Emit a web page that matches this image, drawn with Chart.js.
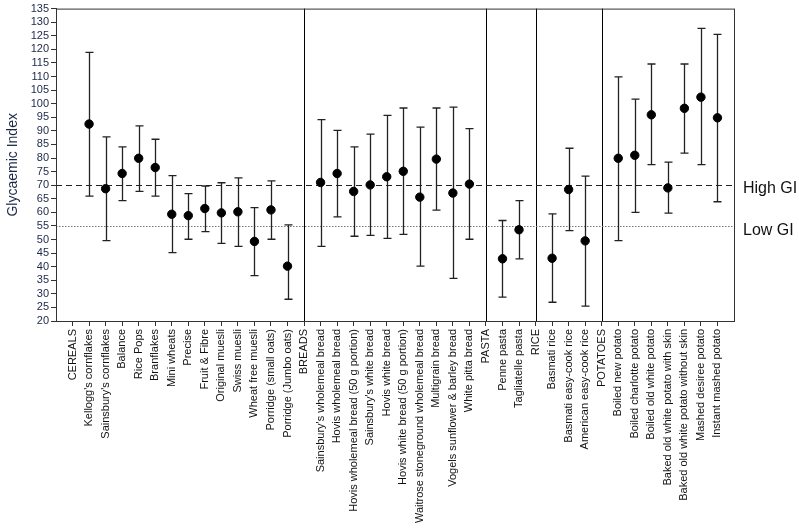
<!DOCTYPE html>
<html>
<head>
<meta charset="utf-8">
<script src="https://cdn.jsdelivr.net/npm/chart.js@4/dist/chart.umd.min.js"></script>
<style>
  html, body { margin: 0; padding: 0; background: #fff; }
  #wrap { width: 799px; height: 528px; }
</style>
</head>
<body>
<div id="wrap"><canvas id="gi"></canvas></div>
<script>
// categories along the x axis; group headers carry no value
const categories = [
  'CEREALS', "Kellogg's cornflakes", "Sainsbury's cornflakes", 'Balance', 'Rice Pops', 'Branflakes',
  'Mini wheats', 'Precise', 'Fruit & Fibre', 'Original muesli', 'Swiss muesli', 'Wheat free muesli',
  'Porridge (small oats)', 'Porridge (Jumbo oats)',
  'BREADS', "Sainsbury's wholemeal bread", 'Hovis wholemeal bread', 'Hovis wholemeal bread (50 g portion)',
  "Sainsbury's white bread", 'Hovis white bread', 'Hovis white bread (50 g portion)',
  'Waitrose stoneground wholemeal bread', 'Multigrain bread', 'Vogels sunflower & barley bread', 'White pitta bread',
  'PASTA', 'Penne pasta', 'Tagliatelle pasta',
  'RICE', 'Basmati rice', 'Basmati easy-cook rice', 'American easy-cook rice',
  'POTATOES', 'Boiled new potato', 'Boiled charlotte potato', 'Boiled old white potato',
  'Baked old white potato with skin', 'Baked old white potato without skin', 'Mashed desiree potato', 'Instant mashed potato'
];
const groupHeaders = ['BREADS', 'PASTA', 'RICE', 'POTATOES'];

const gi = [
  null, 92.5, 68.7, 74.3, 79.9, 76.5, 59.3, 58.8, 61.4, 59.8, 60.2, 49.3, 60.9, 40.2,
  null, 71.0, 74.3, 67.7, 70.1, 73.1, 75.1, 65.6, 79.6, 67.1, 70.4,
  null, 42.9, 53.6,
  null, 43.1, 68.4, 49.5,
  null, 79.9, 81.0, 95.9, 69.0, 98.3, 102.4, 94.8
];
const giHigh = [
  null, 118.9, 87.8, 84.1, 91.8, 86.9, 73.5, 66.9, 69.7, 70.9, 72.7, 61.7, 71.6, 55.4,
  null, 94.1, 90.2, 84.1, 88.8, 95.7, 98.4, 91.4, 98.4, 98.7, 90.8,
  null, 57.0, 64.3,
  null, 59.4, 83.6, 73.3,
  null, 109.9, 101.7, 114.6, 78.5, 114.6, 127.7, 125.5
];
const giLow = [
  null, 66.0, 49.6, 64.3, 67.7, 66.0, 45.2, 50.1, 52.9, 48.6, 47.5, 36.7, 50.1, 28.0,
  null, 47.5, 58.3, 51.2, 51.5, 50.4, 51.9, 40.2, 60.8, 35.7, 50.1,
  null, 28.8, 42.9,
  null, 26.9, 53.3, 25.5,
  null, 49.6, 60.0, 77.6, 59.7, 81.8, 77.6, 63.9
];

const highGI = 70;
const lowGI = 55;

const points = [];
categories.forEach((c, i) => {
  if (gi[i] !== null) points.push({ x: i, y: gi[i] });
});

// ── error bars, reference lines, group separators, frame ──────────────────
const decorations = {
  id: 'decorations',
  beforeDatasetsDraw(chart) {
    const { ctx, chartArea: a, scales: { x, y } } = chart;
    ctx.save();

    // group separators
    ctx.strokeStyle = '#000';
    ctx.lineWidth = 1;
    groupHeaders.forEach(h => {
      const px = Math.round(x.getPixelForValue(categories.indexOf(h))) + 0.5;
      ctx.beginPath();
      ctx.moveTo(px, a.top);
      ctx.lineTo(px, a.bottom);
      ctx.stroke();
    });

    // high / low GI lines
    const yh = Math.round(y.getPixelForValue(highGI)) + 0.5;
    ctx.strokeStyle = '#222';
    ctx.setLineDash([6, 4]);
    ctx.beginPath(); ctx.moveTo(a.left, yh); ctx.lineTo(a.right, yh); ctx.stroke();

    const yl = Math.round(y.getPixelForValue(lowGI)) + 0.5;
    ctx.strokeStyle = '#777';
    ctx.setLineDash([1.5, 1.5]);
    ctx.beginPath(); ctx.moveTo(a.left, yl); ctx.lineTo(a.right, yl); ctx.stroke();
    ctx.setLineDash([]);

    ctx.fillStyle = '#111';
    ctx.font = '16px "Liberation Sans", Arial, sans-serif';
    ctx.textBaseline = 'middle';
    ctx.textAlign = 'left';
    ctx.fillText('High GI', a.right + 9, yh + 3);
    ctx.fillText('Low GI', a.right + 9, yl + 4);

    // error bars
    ctx.strokeStyle = '#222';
    ctx.lineWidth = 1.3;
    categories.forEach((c, i) => {
      if (gi[i] === null) return;
      const px = Math.round(x.getPixelForValue(i)) + 0.5;
      const top = y.getPixelForValue(giHigh[i]);
      const bot = y.getPixelForValue(giLow[i]);
      ctx.beginPath();
      ctx.moveTo(px, top); ctx.lineTo(px, bot);
      ctx.moveTo(px - 4, top); ctx.lineTo(px + 4, top);
      ctx.moveTo(px - 4, bot); ctx.lineTo(px + 4, bot);
      ctx.stroke();
    });

    // frame
    ctx.strokeStyle = '#333';
    ctx.lineWidth = 1;
    ctx.strokeRect(a.left + 0.5, a.top + 0.5, a.right - a.left, a.bottom - a.top);
    ctx.restore();
  }
};

new Chart(document.getElementById('gi'), {
  type: 'scatter',
  data: {
    datasets: [{
      data: points,
      backgroundColor: '#000',
      borderColor: '#000',
      pointRadius: 4.2,
      pointHoverRadius: 4.2,
    }]
  },
  options: {
    responsive: true,
    maintainAspectRatio: false,
    animation: false,
    layout: { padding: { top: 6, right: 65, bottom: 0, left: 5 } },
    plugins: { legend: { display: false }, tooltip: { enabled: false } },
    scales: {
      x: {
        type: 'linear',
        min: -1,
        max: categories.length,
        afterBuildTicks: scale => { scale.ticks = categories.map((c, i) => ({ value: i })); },
        afterFit: scale => { scale.height = 207; },
        grid: { drawOnChartArea: false, drawTicks: true, tickLength: 5, color: '#333' },
        border: { color: '#333' },
        ticks: {
          autoSkip: false,
          minRotation: 90,
          maxRotation: 90,
          padding: 3,
          color: '#111',
          font: { family: '"Liberation Sans", Arial, sans-serif', size: 11 },
          callback: v => categories[Math.round(v)] || ''
        }
      },
      y: {
        min: 20,
        max: 135,
        afterFit: scale => { scale.width = 51; },
        grid: { drawOnChartArea: false, drawTicks: true, tickLength: 5, color: '#333' },
        border: { color: '#333' },
        title: {
          display: true,
          text: 'Glycaemic Index',
          color: '#1b2747',
          padding: { top: 0, bottom: 2 },
          font: { family: '"Liberation Sans", Arial, sans-serif', size: 14 }
        },
        ticks: {
          stepSize: 5,
          autoSkip: false,
          padding: 2,
          color: '#1b2747',
          font: { family: '"Liberation Sans", Arial, sans-serif', size: 11 }
        }
      }
    }
  },
  plugins: [decorations]
});
</script>
</body>
</html>
